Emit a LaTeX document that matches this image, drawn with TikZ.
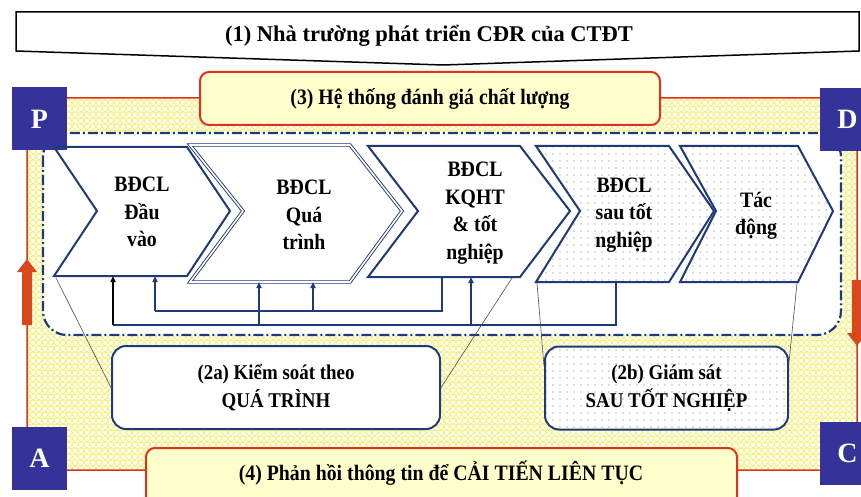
\documentclass[tikz,border=0pt]{standalone}
\usepackage{fontspec}
\setmainfont{Liberation Serif}
\newfontfamily\condser[FakeStretch=0.9]{Liberation Serif}
\usetikzlibrary{arrows.meta,patterns}
\definecolor{navy}{HTML}{1F3A78}
\definecolor{boxblue}{HTML}{333399}
\definecolor{redl}{HTML}{E0301E}
\definecolor{orangea}{HTML}{D9471C}
\definecolor{lightyel}{HTML}{FFFFCC}
\definecolor{pyel}{HTML}{F4EE48}
\pgfdeclarepatternformonly{yscales}{\pgfqpoint{-1pt}{-1pt}}{\pgfqpoint{7pt}{7pt}}{\pgfqpoint{6pt}{6pt}}{%
  \pgfsetlinewidth{0.55pt}%
  \pgfpathmoveto{\pgfqpoint{0pt}{0pt}}%
  \pgfpathcurveto{\pgfqpoint{3pt}{0pt}}{\pgfqpoint{6pt}{3pt}}{\pgfqpoint{6pt}{6pt}}%
  \pgfpathmoveto{\pgfqpoint{0pt}{6pt}}%
  \pgfpathcurveto{\pgfqpoint{0pt}{3pt}}{\pgfqpoint{3pt}{0pt}}{\pgfqpoint{6pt}{0pt}}%
  \pgfusepath{stroke}}
\pgfdeclarepatternformonly{sparsedots}{\pgfqpoint{-1pt}{-1pt}}{\pgfqpoint{1pt}{1pt}}{\pgfqpoint{7pt}{7pt}}{%
  \pgfpathcircle{\pgfqpoint{0pt}{0pt}}{0.6pt}\pgfusepath{fill}}
\tikzset{
  chev/.style={draw=navy, line width=2pt, line join=miter},
  chevtxt/.style={font=\condser\fontsize{22}{27.5}\selectfont\bfseries, align=center, inner sep=0pt},
  letterbox/.style={fill=boxblue, draw=none, minimum width=55pt, minimum height=63pt, inner sep=0pt, text=white, font=\fontsize{28}{28}\selectfont\bfseries},
  fb/.style={draw=navy, line width=1.6pt},
  fbarrow/.style={-{Triangle[length=6pt,width=5pt]}},
  callout/.style={draw=black!70, line width=0.6pt},
  ctrlbox/.style={draw=navy, line width=2pt, rounded corners=14pt, minimum width=328pt, minimum height=83pt, align=center, font=\condser\fontsize{21}{28}\selectfont\bfseries},
  yelbox/.style={draw=redl, line width=2pt, fill=lightyel, rounded corners=9pt},
  yeltxt/.style={font=\condser\fontsize{22}{26}\selectfont\bfseries},
  bigarrow/.style={fill=orangea, draw=none}
}
\begin{document}
\begin{tikzpicture}[x=1pt,y=-1pt]
\useasboundingbox (0,0) rectangle (861,497);
\clip (0,0) rectangle (861,497);
\fill[white] (0,0) rectangle (861,497);

% top banner
\draw[black, line width=1.5pt, fill=white, line join=miter] (16,12) -- (859,12) -- (859,51) -- (443,65) -- (16,51) -- cycle;
\node[font=\fontsize{22.5}{26}\selectfont\bfseries] (title) at (429,36) {(1) Nhà trường phát triển CĐR của CTĐT};

% big red frame
\draw[redl, line width=1.5pt, pattern=yscales, pattern color=pyel, rounded corners=18pt] (27,98) rectangle (857,470);

% (3) box
\draw[yelbox] (200,72) rectangle (660,125);
\node[yeltxt] (qa) at (430,98.5) {(3) Hệ thống đánh giá chất lượng};

% dash-dot frame
\draw[navy, line width=2.2pt, fill=white, dash pattern=on 10pt off 3pt on 2pt off 3pt, rounded corners=24pt] (43,133) rectangle (841,335);

% letter boxes
\node[letterbox] (P) at (39.5,119) {P};
\node[letterbox] (D) at (847.5,119.5) {D};
\node[letterbox] (A) at (39.5,458.5) {A};
\node[letterbox] (C) at (847.5,453.5) {C};

% side arrows
\fill[bigarrow] (22,325) -- (22,272) -- (17,272) -- (27,259) -- (37,272) -- (32,272) -- (32,325) -- cycle;
\fill[bigarrow] (852,280) -- (852,333) -- (847,333) -- (857,346) -- (867,333) -- (862,333) -- (862,280) -- cycle;

% chevrons
\draw[chev] (54,147) -- (187,147) -- (230,211) -- (187,276) -- (54,276) -- (97,211) -- cycle;
\draw[draw=navy, line width=0.9pt, double=white, double distance=1.6pt, line join=miter] (190,145) -- (350,145) -- (402,211) -- (350,282) -- (190,282) -- (243,211) -- cycle;
\draw[chev] (368,146) -- (520,146) -- (570,211) -- (520,277) -- (368,277) -- (418,211) -- cycle;
\draw[chev, preaction={fill=white}, pattern=sparsedots, pattern color=black!55] (536,146) -- (669,146) -- (714,211) -- (669,282) -- (536,282) -- (580,211) -- cycle;
\draw[chev, preaction={fill=white}, pattern=sparsedots, pattern color=black!55] (680,146) -- (798,146) -- (833,211) -- (798,282) -- (680,282) -- (716,211) -- cycle;

\node[chevtxt] (c1) at (142,212) {BĐCL\\Đầu\\vào};
\node[chevtxt] (c2) at (304,215) {BĐCL\\Quá\\trình};
\node[chevtxt] (c3) at (475,213) {BĐCL\\KQHT\\\& tốt\\nghiệp};
\node[chevtxt] (c4) at (624,215) {BĐCL\\sau tốt\\nghiệp};
\node[chevtxt] (c5) at (756,216) {Tác\\động};

% feedback connectors
\coordinate (k3) at (442,277);
\coordinate (i1) at (155,276);
\coordinate (i2) at (313,282);
\coordinate (k4) at (616,282);
\coordinate (o1) at (113,276);
\coordinate (o2) at (259,282);
\coordinate (o3) at (471,277);
\coordinate (iy) at (0,311);
\coordinate (oy) at (0,325);
\draw[fb, line join=miter] (k3) -- (k3 |- iy) -- (i1 |- iy);
\draw[fb, fbarrow] (i1 |- iy) -- (i1);
\draw[fb, fbarrow] (i2 |- iy) -- (i2);
\draw[fb, line join=miter] (k4) -- (k4 |- oy) -- (o1 |- oy);
\draw[fb, draw=black, fill=black, fbarrow] (o1 |- oy) -- (o1);
\draw[fb, fbarrow] (o2 |- oy) -- (o2);
\draw[fb, fbarrow] (o3 |- oy) -- (o3);

% control boxes
\node[ctrlbox, fill=white] (k2a) at (276,387.5) {(2a) Kiểm soát theo\\QUÁ TRÌNH};
\node[ctrlbox, minimum width=243pt, preaction={fill=white}, pattern=sparsedots, pattern color=black!55] (k2b) at (666.5,388) {(2b) Giám sát\\SAU TỐT NGHIỆP};

% callout lines
\coordinate (a1) at (56,278);
\coordinate (a2) at (512,278);
\coordinate (b1) at (537,283);
\coordinate (b2) at (797,283);
\draw[callout] (a1) -- (k2a.west);
\draw[callout] (a2) -- (k2a.east);
\draw[callout] (b1) -- (k2b.170);
\draw[callout] (b2) -- (k2b.12);

% (4) box
\draw[yelbox] (146,448) rectangle (737,520);
\node[yeltxt] (fbk) at (441,473) {(4) Phản hồi thông tin để CẢI TIẾN LIÊN TỤC};
\end{tikzpicture}
\end{document}
